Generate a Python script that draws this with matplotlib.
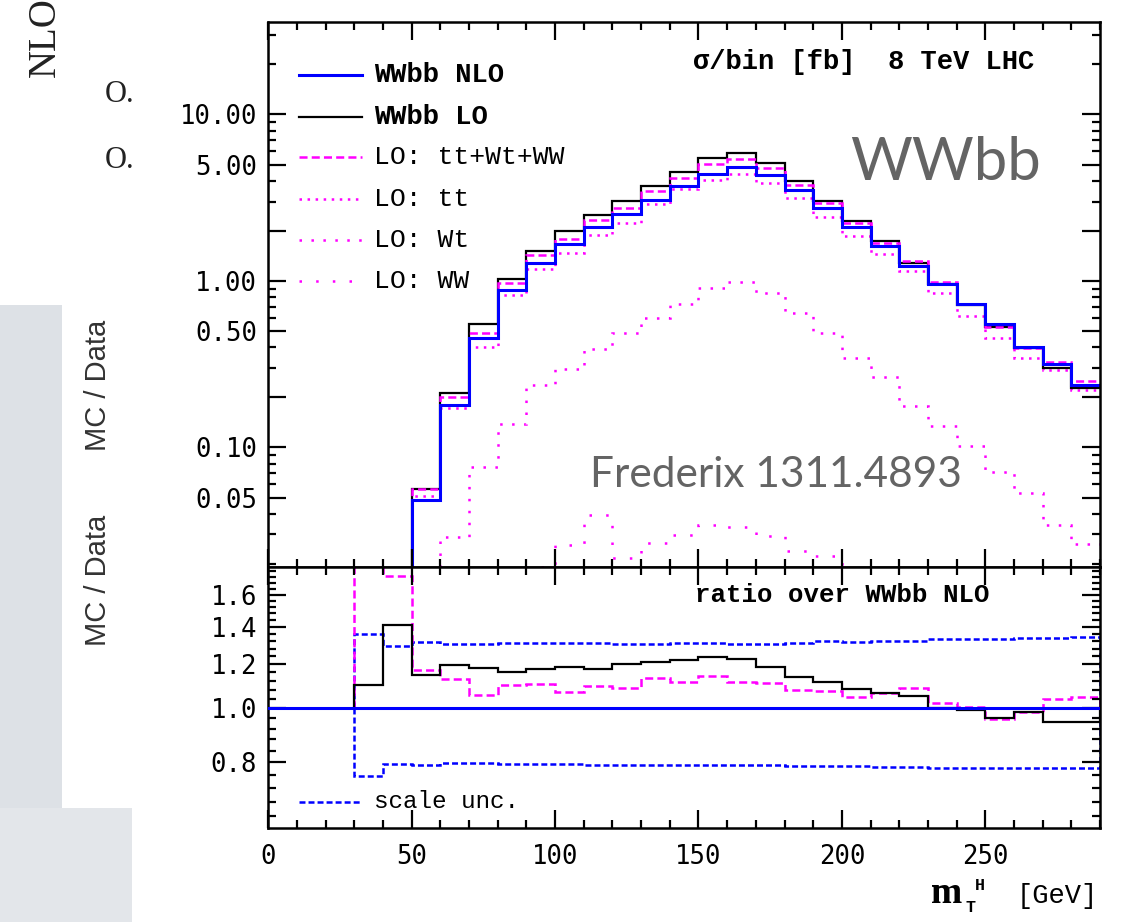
import numpy as np
import matplotlib
matplotlib.use("Agg")
import matplotlib.pyplot as plt
from matplotlib.patches import Rectangle
from matplotlib.lines import Line2D
from matplotlib.ticker import FixedLocator, FuncFormatter, NullFormatter, MultipleLocator, LogLocator

plt.rcParams['lines.scale_dashes'] = False

# ---------------- data ----------------
bin_edges = [30, 40, 50, 60, 70, 80, 90, 100, 110, 120, 130, 140, 150, 160, 170,
             180, 190, 200, 210, 220, 230, 240, 250, 260, 270, 280, 290]

wwbb_nlo = [0.004, 0.008, 0.0484, 0.180, 0.457, 0.883, 1.277, 1.668, 2.10, 2.53, 3.06,
            3.74, 4.39, 4.82, 4.32, 3.50, 2.73, 2.12, 1.62, 1.236, 0.955, 0.722, 0.552,
            0.403, 0.316, 0.237]
wwbb_lo = [0.0044, 0.0113, 0.0563, 0.2135, 0.549, 1.028, 1.52, 1.99, 2.49, 3.04, 3.74,
           4.54, 5.50, 5.85, 5.09, 3.99, 3.02, 2.28, 1.73, 1.29, 0.955, 0.72, 0.532,
           0.397, 0.302, 0.227]
lo_total = [0.009, 0.0138, 0.056, 0.202, 0.487, 0.968, 1.43, 1.795, 2.32, 2.73, 3.48,
            4.14, 5.02, 5.38, 4.75, 3.77, 2.93, 2.22, 1.70, 1.32, 0.98, 0.727, 0.53,
            0.397, 0.328, 0.249]
lo_tt = [0.003, 0.006, 0.0513, 0.173, 0.403, 0.821, 1.176, 1.479, 1.89, 2.24, 2.89,
         3.57, 4.04, 4.38, 3.89, 3.16, 2.43, 1.86, 1.45, 1.15, 0.844, 0.619, 0.452,
         0.346, 0.292, 0.222]
lo_wt = [0.001, 0.004, 0.012, 0.0289, 0.076, 0.138, 0.237, 0.295, 0.391, 0.487, 0.603,
         0.731, 0.912, 0.991, 0.844, 0.64, 0.485, 0.343, 0.264, 0.178, 0.134, 0.102,
         0.0714, 0.0535, 0.0343, 0.0262]
lo_ww = [0.002, 0.004, 0.006, 0.009, 0.012, 0.015, 0.019, 0.0258, 0.0395, 0.0218,
         0.0266, 0.0298, 0.034, 0.0333, 0.0295, 0.0238, 0.0224, 0.018, 0.016, 0.014,
         0.012, 0.010, 0.009, 0.008, 0.007, 0.006]

ratio_lo = [1.101, 1.409, 1.146, 1.194, 1.183, 1.160, 1.176, 1.184, 1.176, 1.199, 1.209,
            1.222, 1.237, 1.224, 1.187, 1.139, 1.115, 1.082, 1.067, 1.052, 1.0, 0.993,
            0.963, 0.984, 0.944, 0.946]
ratio_total = [2.2, 1.729, 1.171, 1.127, 1.056, 1.100, 1.105, 1.068, 1.096, 1.086, 1.132,
               1.115, 1.143, 1.115, 1.111, 1.079, 1.075, 1.046, 1.064, 1.089, 1.021,
               1.007, 0.956, 0.986, 1.038, 1.049]
scale_up = [1.359, 1.295, 1.313, 1.304, 1.304, 1.308, 1.308, 1.311, 1.308, 1.304, 1.304,
            1.308, 1.308, 1.304, 1.304, 1.308, 1.321, 1.315, 1.321, 1.323, 1.330, 1.332,
            1.332, 1.335, 1.339, 1.343]
scale_dn = [0.757, 0.795, 0.792, 0.798, 0.797, 0.794, 0.795, 0.795, 0.792, 0.791, 0.791,
            0.791, 0.791, 0.793, 0.791, 0.789, 0.788, 0.787, 0.786, 0.786, 0.781, 0.783,
            0.783, 0.783, 0.783, 0.783]

top_tick_vals = [10, 5, 1, 0.5, 0.1, 0.05]
top_tick_labels = ['10.00', '5.00', '1.00', '0.50', '0.10', '0.05']
top_long_ticks = [0.05, 0.1, 0.2, 0.5, 1, 2, 5, 10]
ratio_tick_vals = [0.8, 1.0, 1.2, 1.4, 1.6]
ratio_tick_labels = ['0.8', '1.0', '1.2', '1.4', '1.6']
x_tick_vals = [0, 50, 100, 150, 200, 250]

legend_labels = ['WWbb NLO', 'WWbb LO', 'LO: tt+Wt+WW', 'LO: tt', 'LO: Wt', 'LO: WW']

# ---------------- styles ----------------
BLUE = '#0000ff'
MAG = '#ff00ff'
MONO = ['Liberation Mono', 'DejaVu Sans Mono']
SERIF = ['Liberation Serif', 'DejaVu Serif']
lw_blue, lw_black, lw_mag = 2.2, 1.6, 1.8
ls_dash = (0, (5.8, 3.0))
ls_tt = (0, (1.8, 4.0))
ls_wt = (0, (1.8, 6.8))
ls_ww = (0, (1.8, 10.2))
ls_scale = (0, (4.3, 2.2))

W, H = 1121, 922
fig = plt.figure(figsize=(W / 100, H / 100), dpi=100)


def fx(px):
    return px / W


def fy(py):
    return 1 - py / H


# slide background remnants on the left
fig.add_artist(Rectangle((0, 0), fx(62), fy(305), transform=fig.transFigure,
                         facecolor='#dde1e6', edgecolor='none', zorder=0))
fig.add_artist(Rectangle((0, 0), fx(132), fy(808), transform=fig.transFigure,
                         facecolor='#e3e6ea', edgecolor='none', zorder=0))
fig.text(fx(45), fy(77), 'NLO/', rotation=90, ha='center', va='bottom',
         family=SERIF, fontsize=28, color='#222222')
for yy in (95, 160):
    fig.text(fx(105), fy(yy), 'O.', ha='left', va='center',
             family=SERIF, fontsize=22, color='#222222')
for yy in (385, 580):
    fig.text(fx(98), fy(yy), 'MC / Data', rotation=90, ha='center', va='center',
             family=['Liberation Sans Narrow', 'Liberation Sans', 'DejaVu Sans'],
             fontsize=21, color='#333333')

L, R, T, M, B = 268.3, 1100, 22.3, 566.7, 827.7
ax1 = fig.add_axes([fx(L), fy(M), fx(R - L), (M - T) / H])
ax2 = fig.add_axes([fx(L), fy(B), fx(R - L), (B - M) / H], sharex=ax1)

# ---------------- top panel ----------------
ax1.stairs(lo_ww, bin_edges, baseline=None, color=MAG, lw=lw_mag, linestyle=ls_ww)
ax1.stairs(lo_wt, bin_edges, baseline=None, color=MAG, lw=lw_mag, linestyle=ls_wt)
ax1.stairs(lo_tt, bin_edges, baseline=None, color=MAG, lw=lw_mag, linestyle=ls_tt)
ax1.stairs(wwbb_lo, bin_edges, baseline=None, color='black', lw=lw_black)
ax1.stairs(lo_total, bin_edges, baseline=None, color=MAG, lw=lw_mag, linestyle=ls_dash)
ax1.stairs(wwbb_nlo, bin_edges, baseline=None, color=BLUE, lw=lw_blue)

ax1.set_yscale('log')
ax1.set_ylim(0.0192, 35.8)
ax1.set_xlim(0, 290)
top_map = dict(zip(top_tick_vals, top_tick_labels))
ax1.yaxis.set_major_formatter(FuncFormatter(
    lambda v, p: next((s for k, s in top_map.items() if abs(k - v) < 1e-9 * max(1, k)), '')))
ax1.yaxis.set_minor_locator(LogLocator(base=10, subs=np.arange(1, 10), numticks=50))
ax1.yaxis.set_minor_formatter(NullFormatter())

# ---------------- ratio panel ----------------
ax2.axhline(1.0, color=BLUE, lw=lw_blue, zorder=3)
ax2.stairs(scale_up, bin_edges, baseline=1.0, color=BLUE, lw=lw_mag, linestyle=ls_scale)
ax2.stairs(scale_dn, bin_edges, baseline=1.0, color=BLUE, lw=lw_mag, linestyle=ls_scale)
ax2.stairs(ratio_total, bin_edges, baseline=1.0, color=MAG, lw=lw_mag, linestyle=ls_dash)
ax2.stairs(ratio_lo, bin_edges, baseline=1.0, color='black', lw=lw_black)

ax2.set_yscale('log')
ax2.set_ylim(0.611, 1.795)
ax2.yaxis.set_major_locator(FixedLocator(ratio_tick_vals))
ratio_map = dict(zip([round(t, 2) for t in ratio_tick_vals], ratio_tick_labels))
ax2.yaxis.set_major_formatter(FuncFormatter(lambda v, p: ratio_map.get(round(v, 2), '')))
ax2.yaxis.set_minor_locator(FixedLocator(np.round(np.arange(0.64, 1.79, 0.04), 2)))
ax2.yaxis.set_minor_formatter(NullFormatter())

ax2.xaxis.set_major_locator(FixedLocator(x_tick_vals))
ax2.xaxis.set_minor_locator(MultipleLocator(10))

for ax in (ax1, ax2):
    for s in ax.spines.values():
        s.set_linewidth(1.8)
    ax.tick_params(which='both', direction='in', top=True, right=True, width=1.6,
                   labelsize=18.5, colors='black')
    ax.tick_params(which='major', length=13)
    ax.tick_params(which='minor', length=5.5)
    ax.tick_params(axis='y', pad=8)
    ax.tick_params(axis='x', pad=12)
    ax.xaxis.set_tick_params(labelfontfamily='DejaVu Sans Mono')
    ax.yaxis.set_tick_params(labelfontfamily='DejaVu Sans Mono')
ax1.tick_params(labelbottom=False)
ax1.yaxis.set_major_locator(FixedLocator(top_long_ticks))

# ---------------- legend (manual, TopDrawer style) ----------------
leg_styles = [dict(color=BLUE, lw=lw_blue, ls='-'),
              dict(color='black', lw=lw_black, ls='-'),
              dict(color=MAG, lw=lw_mag, ls=ls_dash),
              dict(color=MAG, lw=lw_mag, ls=ls_tt),
              dict(color=MAG, lw=lw_mag, ls=ls_wt),
              dict(color=MAG, lw=lw_mag, ls=ls_ww)]
leg_rows = [75, 117, 157.5, 199, 240, 281.5]
for lab, st, yy in zip(legend_labels, leg_styles, leg_rows):
    fig.add_artist(Line2D([fx(299), fx(362)], [fy(yy), fy(yy)], color=st['color'],
                          lw=st['lw'], linestyle=st['ls']))
    bold = lab.startswith('WWbb')
    fig.text(fx(374), fy(yy), lab, ha='left', va='center', family=MONO,
             fontsize=19.5 if bold else 19, fontweight='bold' if bold else 'normal')

fig.add_artist(Line2D([fx(299), fx(362)], [fy(801.5), fy(801.5)], color=BLUE,
                      lw=lw_mag, linestyle=ls_scale))
fig.text(fx(374), fy(801.5), 'scale unc.', ha='left', va='center', family=MONO, fontsize=17.5)

fig.text(fx(693), fy(62), 'σ/bin [fb]  8 TeV LHC', ha='left', va='center', family=MONO,
         fontsize=19.5, fontweight='bold')
fig.text(fx(695), fy(595), 'ratio over WWbb NLO', ha='left', va='center', family=MONO,
         fontsize=18.5, fontweight='bold')

# axis title m_T^H [GeV]
fig.text(fx(931), fy(903), 'm', ha='left', va='baseline', family=SERIF, fontsize=27, fontweight='bold')
fig.text(fx(966), fy(912), 'T', ha='left', va='baseline', family=MONO, fontsize=12, fontweight='bold')
fig.text(fx(975), fy(890), 'H', ha='left', va='baseline', family=MONO, fontsize=12, fontweight='bold')
fig.text(fx(1017), fy(903), '[GeV]', ha='left', va='baseline', family=MONO, fontsize=19.5)

# slide annotations
fig.text(fx(850), fy(180), 'WWbb', ha='left', va='baseline', family=['Lato', 'DejaVu Sans'],
         fontweight='normal', fontsize=43, color='#646464')
fig.text(fx(590), fy(487), 'Frederix 1311.4893', ha='left', va='baseline',
         family=['Lato', 'DejaVu Sans'], fontweight='normal', fontsize=30.5, color='#646464')

fig.savefig('out.png', dpi=100)
